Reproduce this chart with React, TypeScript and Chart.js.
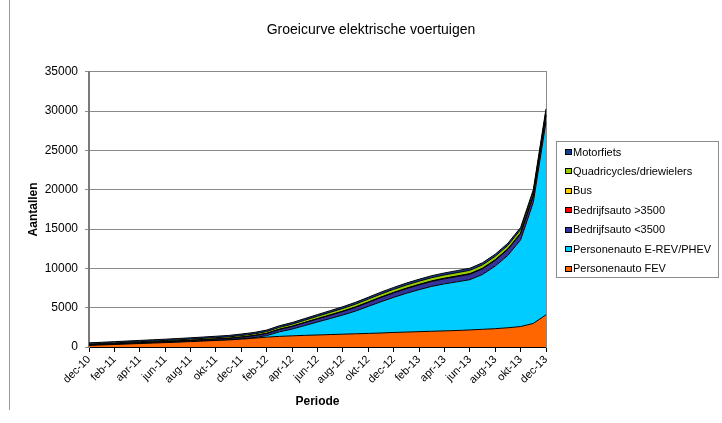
import React, { useEffect, useRef } from 'react';
import { Chart, registerables } from 'chart.js';

Chart.register(...registerables);

const months = [
  'dec-10',
  'jan-11', 'feb-11', 'mrt-11', 'apr-11', 'mei-11', 'jun-11', 'jul-11', 'aug-11', 'sep-11', 'okt-11', 'nov-11', 'dec-11',
  'jan-12', 'feb-12', 'mrt-12', 'apr-12', 'mei-12', 'jun-12', 'jul-12', 'aug-12', 'sep-12', 'okt-12', 'nov-12', 'dec-12',
  'jan-13', 'feb-13', 'mrt-13', 'apr-13', 'mei-13', 'jun-13', 'jul-13', 'aug-13', 'sep-13', 'okt-13', 'nov-13', 'dec-13',
];

const personenautoFEV = [200, 260, 320, 380, 440, 500, 560, 620, 690, 760, 830, 900, 1000, 1120, 1250, 1350, 1420, 1480, 1530, 1580, 1630, 1680, 1730, 1780, 1850, 1900, 1950, 2000, 2050, 2100, 2170, 2250, 2330, 2450, 2600, 3000, 4100];
const personenautoEREV = [0, 0, 0, 0, 0, 0, 0, 0, 0, 0, 0, 0, 40, 75, 200, 580, 860, 1250, 1650, 2040, 2440, 2890, 3430, 3980, 4460, 4930, 5340, 5710, 5980, 6190, 6390, 6980, 7960, 9210, 11030, 15400, 24550];
const bedrijfsautoLicht = [60, 70, 80, 90, 100, 110, 120, 130, 140, 150, 165, 180, 200, 230, 260, 300, 330, 360, 390, 420, 450, 480, 510, 540, 570, 590, 610, 630, 650, 670, 690, 710, 730, 750, 770, 790, 820];
const bedrijfsautoZwaar = [5, 5, 5, 5, 6, 6, 6, 7, 7, 8, 8, 9, 10, 10, 11, 12, 12, 13, 14, 15, 16, 17, 18, 19, 20, 21, 22, 23, 24, 25, 26, 27, 28, 29, 30, 31, 32];
const bus = [10, 10, 10, 11, 11, 12, 12, 13, 13, 14, 15, 16, 18, 20, 22, 24, 26, 28, 30, 32, 34, 36, 38, 40, 42, 44, 46, 48, 50, 52, 54, 56, 58, 60, 62, 64, 66];
const quadricycles = [100, 105, 110, 115, 120, 125, 130, 140, 150, 160, 170, 180, 190, 200, 215, 235, 255, 275, 295, 315, 335, 350, 365, 380, 390, 395, 400, 405, 410, 415, 420, 425, 430, 435, 440, 445, 450];
const motorfiets = [150, 152, 155, 158, 160, 163, 165, 168, 170, 175, 180, 185, 190, 190, 195, 200, 205, 210, 215, 220, 225, 230, 235, 240, 245, 250, 250, 255, 255, 260, 260, 265, 265, 270, 270, 275, 275];

const seriesNames = [
  'Personenauto FEV',
  'Personenauto E-REV/PHEV',
  'Bedrijfsauto <3500',
  'Bedrijfsauto >3500',
  'Bus',
  'Quadricycles/driewielers',
  'Motorfiets',
];
const seriesValues = [personenautoFEV, personenautoEREV, bedrijfsautoLicht, bedrijfsautoZwaar, bus, quadricycles, motorfiets];
const seriesColors = ['#FF6600', '#00CCFF', '#333399', '#FF0000', '#FFCC00', '#99CC00', '#123E96'];

const yTicks = [0, 5000, 10000, 15000, 20000, 25000, 30000, 35000];

const FONT = "'Liberation Sans', Arial, Helvetica, sans-serif";

// Framed legend at the right of the plot, items listed top series first (like the original)
const boxLegendPlugin = {
  id: 'boxLegend',
  afterDraw(chart: any) {
    const ctx = chart.ctx;
    const ca = chart.chartArea;
    const datasets = chart.data.datasets;
    const n = datasets.length;
    const rowH = 19.45;
    const boxL = Math.round(ca.right + 10) + 0.5;
    const boxR = 718.5;
    const cy = (ca.top + ca.bottom) / 2;
    const boxT = Math.round(cy - 68.5) + 0.5;
    const boxB = Math.round(cy + 67.5) + 0.5;
    ctx.save();
    ctx.strokeStyle = '#8c8c8c';
    ctx.lineWidth = 1;
    ctx.strokeRect(boxL, boxT, boxR - boxL, boxB - boxT);
    ctx.font = `11px ${FONT}`;
    ctx.textBaseline = 'middle';
    ctx.textAlign = 'left';
    for (let k = 0; k < n; k++) {
      const ds = datasets[n - 1 - k];
      const y = boxT + 10.5 + k * rowH;
      const mx = Math.round(boxL + 8.5);
      const my = Math.round(y - 3);
      ctx.fillStyle = ds.backgroundColor;
      ctx.fillRect(mx, my, 7, 6);
      ctx.strokeStyle = '#000';
      ctx.strokeRect(mx + 0.5, my + 0.5, 6, 5);
      ctx.fillStyle = '#000';
      ctx.fillText(ds.label, boxL + 16.5, y + 0.5);
    }
    ctx.restore();

    // left edge line of the original chart frame
    ctx.save();
    ctx.strokeStyle = '#9a9a9a';
    ctx.lineWidth = 1;
    ctx.beginPath();
    ctx.moveTo(9.5, 0);
    ctx.lineTo(9.5, 410);
    ctx.stroke();
    ctx.restore();
  },
};

export default function App() {
  const canvasRef = useRef<HTMLCanvasElement | null>(null);

  useEffect(() => {
    if (!canvasRef.current) return;
    const chart = new Chart(canvasRef.current, {
      type: 'line',
      data: {
        labels: months,
        datasets: seriesNames.map((name, i) => ({
          label: name,
          data: seriesValues[i],
          backgroundColor: seriesColors[i],
          borderColor: '#000000',
          borderWidth: 1,
          pointRadius: 0,
          pointHoverRadius: 0,
          tension: 0,
          fill: i === 0 ? 'origin' : '-1',
        })),
      },
      options: {
        responsive: false,
        animation: false,
        events: [],
        layout: { padding: { left: 20, right: 0, top: 0, bottom: 8 } },
        plugins: {
          title: {
            display: true,
            text: 'Groeicurve elektrische voertuigen',
            color: '#000',
            font: { family: FONT, size: 14, weight: 'normal' },
            padding: { top: 22, bottom: 33 },
          },
          legend: { display: false },
          tooltip: { enabled: false },
        },
        scales: {
          x: {
            type: 'category',
            offset: false,
            grid: {
              drawOnChartArea: false,
              drawTicks: true,
              tickLength: 5,
              tickColor: (c: any) => (c.index % 2 === 0 ? '#000' : 'rgba(0,0,0,0)'),
            },
            border: { color: '#000', width: 1 },
            ticks: {
              autoSkip: false,
              minRotation: 45,
              maxRotation: 45,
              color: '#000',
              padding: 1,
              font: { family: FONT, size: 11 },
              callback: (_v: any, i: number) => (i % 2 === 0 ? months[i] : ''),
            },
            title: {
              display: true,
              text: 'Periode',
              color: '#000',
              font: { family: FONT, size: 12, weight: 'bold' },
              padding: { top: 4, bottom: 6 },
            },
            afterFit: (s: any) => { s.height = 68; },
          },
          y: {
            stacked: true,
            min: yTicks[0],
            max: yTicks[yTicks.length - 1],
            afterBuildTicks: (s: any) => { s.ticks = yTicks.map((v) => ({ value: v })); },
            grid: { color: '#8a8a8a', lineWidth: 1, tickLength: 4, tickColor: '#8a8a8a' },
            border: { color: '#7a7a7a', width: 2 },
            ticks: {
              color: '#000',
              padding: 7,
              font: { family: FONT, size: 12 },
              callback: (v: any) => String(v),
            },
            title: {
              display: true,
              text: 'Aantallen',
              color: '#000',
              font: { family: FONT, size: 12, weight: 'bold' },
              padding: { top: 6, bottom: 4 },
            },
            afterFit: (s: any) => { s.width = 69; },
          },
          yR: {
            position: 'right',
            display: true,
            grid: { display: false, drawTicks: false },
            ticks: { display: false },
            border: { color: '#8a8a8a', width: 1 },
            afterFit: (s: any) => { s.width = 176; },
          },
        },
      },
      plugins: [boxLegendPlugin],
    } as any);
    return () => chart.destroy();
  }, []);

  return (
    <div style={{ position: 'fixed', left: 0, top: 0, width: 722, height: 423, background: '#fff' }}>
      <canvas ref={canvasRef} width={722} height={423} style={{ display: 'block' }} />
    </div>
  );
}
